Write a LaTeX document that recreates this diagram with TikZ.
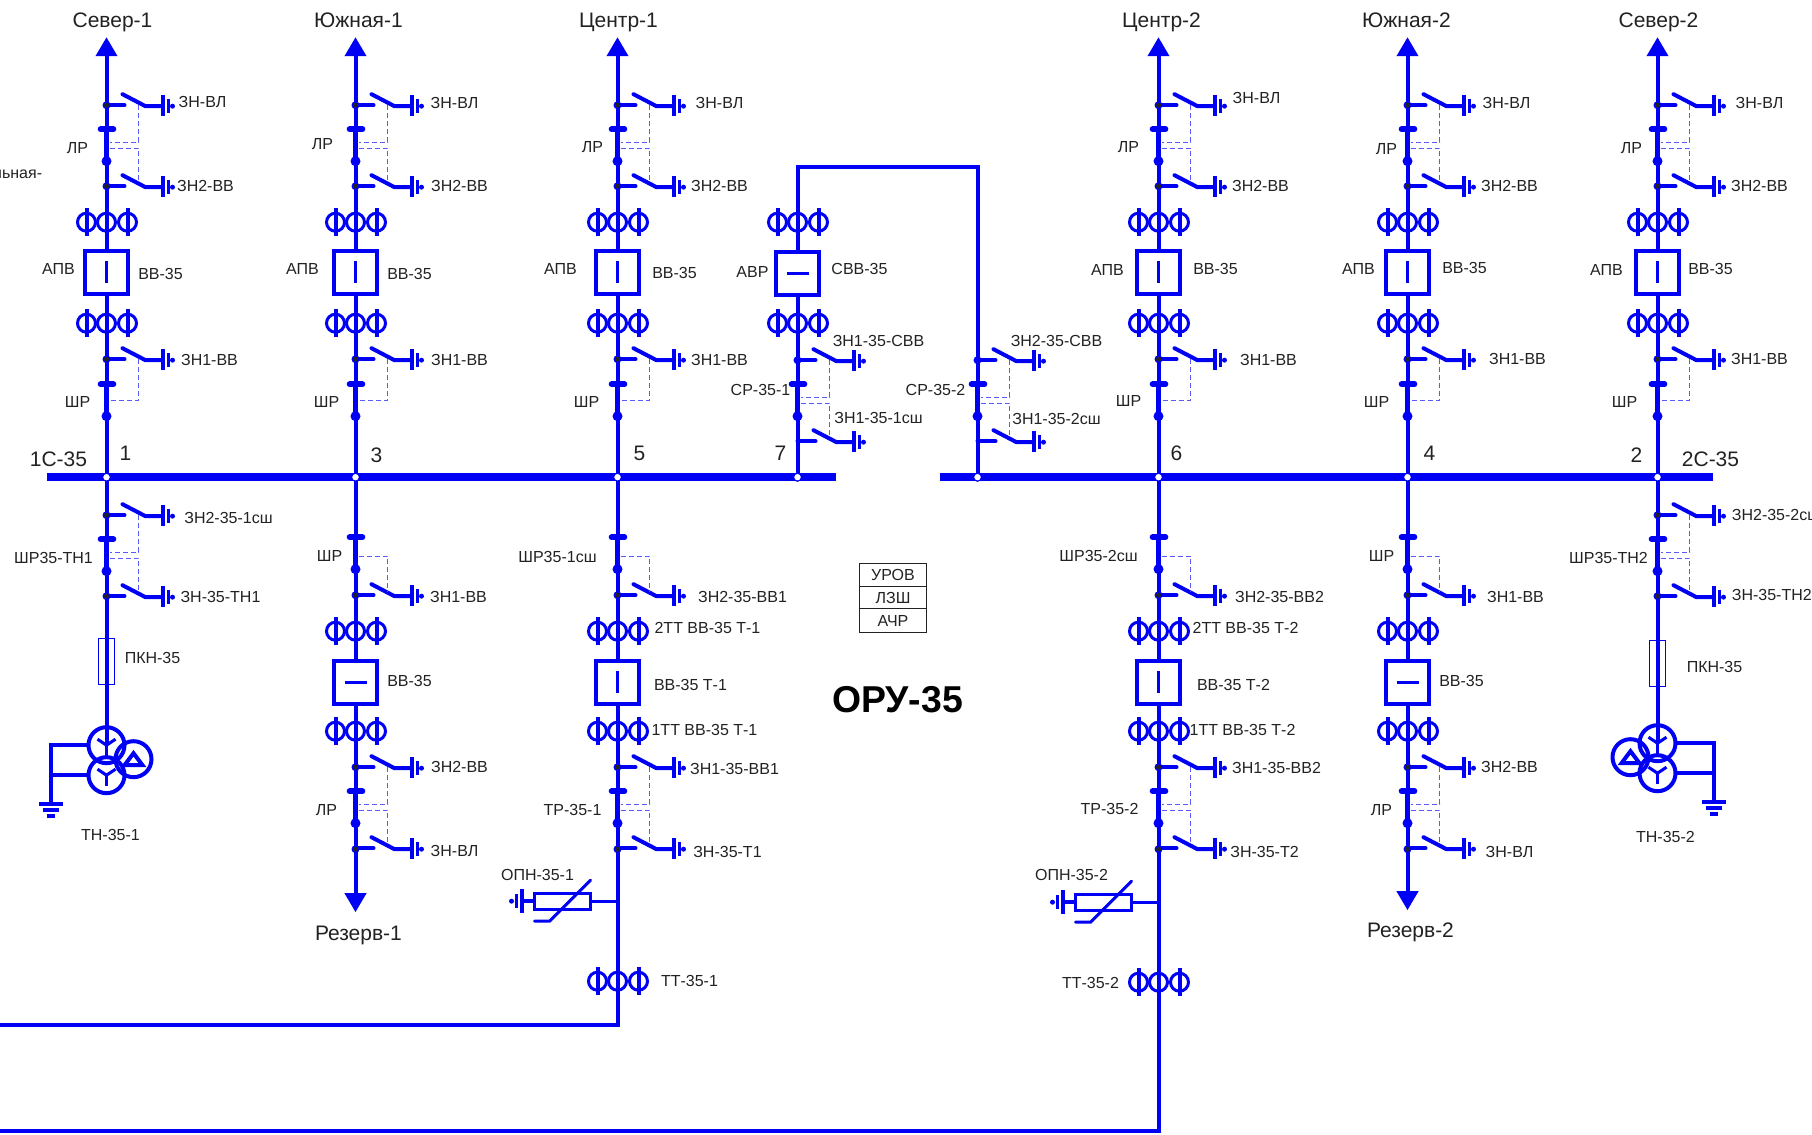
\documentclass[tikz,border=0pt]{standalone}
\usepackage{fontspec}
\setmainfont{Liberation Sans}
\usetikzlibrary{arrows.meta}

\definecolor{lineblue}{RGB}{0,0,245}
\definecolor{lockblue}{RGB}{90,90,250}
\definecolor{labelgray}{RGB}{34,34,34}

\tikzset{
  wire/.style={lineblue,line width=2pt},
  wirethin/.style={lineblue,line width=1.5pt},
  rzblade/.style={lineblue,line width=2.8pt},
  busbar/.style={lineblue,line width=4pt},
  lock/.style={lockblue,line width=0.55pt,dash pattern=on 2.5pt off 1.5pt},
  lbl/.style={text=labelgray,font=\fontsize{8}{9}\selectfont,inner sep=0pt,text height=5.8pt,text depth=0pt},
  lblbig/.style={text=labelgray,font=\fontsize{10.5}{11}\selectfont,inner sep=0pt,text height=7.6pt,text depth=0pt},
  vvbox/.style={draw=lineblue,fill=white,line width=1.8pt,minimum size=21.5pt,inner sep=0pt},
  pkn/.style={draw=lineblue,line width=0.7pt,minimum width=8pt,minimum height=23pt,inner sep=0pt},
  pics/tapdot/.style={code={
    \fill[lineblue] (0,0) circle (4);
    \fill[labelgray] (0,0) circle (2.5);
  }},
  pics/zn/.style={code={
    \draw[wire,line cap=round] (0,0) -- (18,0);
    \draw[wire,line cap=round] (16,-11) -- (39,1) -- (56,1);
    \draw[wire] (56,-10) -- (56,11);
    \draw[wirethin] (62,-6) -- (62,8);
    \fill[lineblue] (66,1) circle (2.5);
  }},
  pics/rz/.style={code={
    \draw[rzblade,line cap=round] (-6,0) -- (7,0);
    \draw[rzblade] (0,0) -- (0,32);
    \fill[lineblue] (0,32) circle (5);
  }},
  pics/cell/.style={code={
    \pic at (0,0) {zn};
    \pic at (0,24) {rz};
    \pic at (0,81) {zn};
    \draw[lock] (32,0) -- (32,37) -- (3,37);
    \draw[lock] (3,43) -- (32,43) -- (32,77);
  }},
  pics/cellone/.style={code={
    \pic at (0,0) {zn};
    \pic at (0,25) {rz};
    \draw[lock] (32,0) -- (32,41) -- (3,41);
  }},
  pics/cellrz/.style={code={
    \pic at (0,-58) {rz};
    \pic at (0,0) {zn};
    \draw[lock] (3,-39) -- (32,-39) -- (32,-3);
  }},
  pics/tt/.style={code={
    \foreach \tx in {-20,0,21} {
      \draw[wirethin] (\tx,0) circle (9);
      \draw[wire] (\tx,-14) -- (\tx,14);
    }
  }},
  pics/tn/.style={code={
    \draw[wire] (0,0) circle (18);
    \draw[wire] (0,30) circle (18);
    \draw[wire] (27,14) circle (18);
    \foreach \sy in {0,30} {
      \draw[wirethin] (-9,\sy-6) -- (0,\sy) -- (9,\sy-6);
      \draw[wirethin] (0,\sy) -- (0,\sy+11);
    }
    \draw[wire] (27,8) -- (18,20) -- (36,20) -- cycle;
    \draw[wire] (-18,0) -- (-56,0) -- (-56,59);
    \draw[wire] (-18,30) -- (-56,30);
    \draw[wire] (-68,59) -- (-44,59);
    \draw[wire] (-64,65) -- (-48,65);
    \draw[wire] (-60,71) -- (-52,71);
  }},
  pics/opn/.style={code={
    \draw[wirethin] (0,0) -- (-27,0);
    \draw[wirethin] (-27,-8) rectangle (-83,8);
    \draw[wirethin,line cap=round] (-27,-21) -- (-68,20) -- (-83,20);
    \draw[wire] (-83,0) -- (-96,0);
    \draw[wire] (-96,-12) -- (-96,12);
    \draw[wirethin] (-101,-7) -- (-101,7);
    \fill[lineblue] (-106,0) circle (2.5);
  }},
}

\begin{document}
\begin{tikzpicture}[x=0.5pt,y=-0.5pt]
  \useasboundingbox (-0.5,-1.2) rectangle (1811.5,1133.8);
  \clip (-0.5,-1.2) rectangle (1811.5,1133.8);
  % Feeders going up from the buses
  \foreach \fx/\n in {106/1,355/3,617/5,1158/6,1407/4,1657/2} {
    \coordinate (top\n) at (\fx,36);
    \coordinate (tap\n) at (\fx,476);
    \draw[wire,-{Triangle[length=9.5pt,width=10.5pt]}] (tap\n) -- (top\n);
    \pic at (\fx,104) {cell};
    \pic at (\fx,221) {tt};
    \node[vvbox] (vv\n) at (\fx,271) {};
    \draw[wirethin] (vv\n.center) ++(0,-11) -- ++(0,22);
    \pic at (\fx,322) {tt};
    \pic at (\fx,358) {cellone};
    \foreach \dy in {104,185,358} {\pic at (\fx,\dy) {tapdot};}
  }
  % Section link
  \coordinate (tap7) at (797,476);
  \coordinate (tap8) at (977,476);
  \coordinate (linkl) at (797,166);
  \coordinate (linkr) at (977,166);
  \draw[wire] (tap7) -- (linkl) -- (linkr) -- (tap8);
  \pic at (797,221) {tt};
  \node[vvbox] (vv7) at (797,272) {};
  \draw[wirethin] (vv7.center) ++(-11,0) -- ++(22,0);
  \pic at (797,322) {tt};
  \foreach \fx in {797,977} {
    \pic at (\fx,359) {cell};
    \fill[lineblue] (\fx,359) circle (4);
  }
  % Voltage transformers
  \coordinate (tn1) at (106,744);
  \coordinate (tn2) at (1657,742);
  \draw[wire] (tap1) -- (tn1);
  \draw[wire] (tap2) -- (tn2);
  \node[pkn] (pkn1) at (106,660) {};
  \node[pkn] (pkn2) at (1657,662) {};
  \pic at (tn1) {tn};
  \pic[xscale=-1] at (tn2) {tn};
  \foreach \fx in {106,1657} {
    \pic at (\fx,514) {cell};
    \foreach \dy in {514,595} {\pic at (\fx,\dy) {tapdot};}
  }
  % Reserve feeders
  \coordinate (res1) at (355,911);
  \coordinate (res2) at (1407,909);
  \draw[wire,-{Triangle[length=9.5pt,width=10.5pt]}] (tap3) -- (res1);
  \draw[wire,-{Triangle[length=9.5pt,width=10.5pt]}] (tap4) -- (res2);
  % Transformer feeders
  \coordinate (t1) at (617,1024);
  \coordinate (t2) at (1158,1130);
  \coordinate (t1end) at (-2,1024);
  \coordinate (t2end) at (-2,1130);
  \draw[wire] (tap5) -- (t1) -- (t1end);
  \draw[wire] (tap6) -- (t2) -- (t2end);
  \pic at (617,900) {opn};
  \pic at (1158,901) {opn};
  \pic at (617,980) {tt};
  \pic at (1158,981) {tt};
  \foreach \fx/\n in {355/a,617/b,1158/c,1407/d} {
    \pic at (\fx,594) {cellrz};
    \pic at (\fx,630) {tt};
    \node[vvbox] (vvl\n) at (\fx,681) {};
    \pic at (\fx,730) {tt};
    \pic at (\fx,766) {cell};
    \foreach \dy in {594,766,848} {\pic at (\fx,\dy) {tapdot};}
  }
  \foreach \n in {a,d} {\draw[wirethin] (vvl\n.center) ++(-11,0) -- ++(22,0);}
  \foreach \n in {b,c} {\draw[wirethin] (vvl\n.center) ++(0,-11) -- ++(0,22);}
  % Buses
  \coordinate (bus1l) at (46,476);
  \coordinate (bus1r) at (835,476);
  \coordinate (bus2l) at (939,476);
  \coordinate (bus2r) at (1712,476);
  \draw[busbar] (bus1l) -- (bus1r);
  \draw[busbar] (bus2l) -- (bus2r);
  \foreach \n in {1,...,8} {\draw[lineblue,line width=0.6pt,fill=white] (tap\n) circle (4);}
  % Protection block
  \node[draw=labelgray,line width=0.7pt,minimum width=33.5pt,minimum height=11.5pt,inner sep=0pt,lbl] (uro) at (892.5,573.5) {УРОВ};
  \node[draw=labelgray,line width=0.7pt,minimum width=33.5pt,minimum height=11pt,inner sep=0pt,lbl] (lzs) at (892.5,596) {ЛЗШ};
  \node[draw=labelgray,line width=0.7pt,minimum width=33.5pt,minimum height=12pt,inner sep=0pt,lbl] (achr) at (892.5,619) {АЧР};
  \node[font=\bfseries\fontsize{18.7}{20}\selectfont,inner sep=0pt,text height=13.4pt,text depth=0pt] (oru) at (897,698) {ОРУ-35};
  \begin{scope}[yshift=0.6pt]
  % Titles
  \foreach \lx/\ly/\ltext [count=\i] in {112/20/Север-1,358/20/Южная-1,618/20/Центр-1,1161/20/Центр-2,1406/20/Южная-2,1658/20/Север-2,
    358/933/Резерв-1,1410/930/Резерв-2,58/459/1С-35,1710/459/2С-35,
    125/453/1,376/455/3,639/453/5,780/453/7,1176/453/6,1429/453/4,1636/455/2} {
    \node[lblbig] (title\i) at (\lx,\ly) {\ltext};
  }
  % Labels
  \foreach \lx/\ly/\ltext [count=\i] in {
    202/102/ЗН-ВЛ,205/186/ЗН2-ВВ,209/360/ЗН1-ВВ,77/148/ЛР,77/402/ШР,58/269/АПВ,160/274/ВВ-35,
    228/518/ЗН2-35-1сш,220/597/ЗН-35-ТН1,53/558/ШР35-ТН1,152/658/ПКН-35,110/835/ТН-35-1,
    454/103/ЗН-ВЛ,459/186/ЗН2-ВВ,459/360/ЗН1-ВВ,322/144/ЛР,326/402/ШР,302/269/АПВ,409/274/ВВ-35,
    329/556/ШР,458/597/ЗН1-ВВ,409/681/ВВ-35,459/767/ЗН2-ВВ,326/810/ЛР,454/851/ЗН-ВЛ,
    719/103/ЗН-ВЛ,719/186/ЗН2-ВВ,719/360/ЗН1-ВВ,592/147/ЛР,586/402/ШР,560/269/АПВ,674/273/ВВ-35,
    557/557/ШР35-1сш,742/597/ЗН2-35-ВВ1,707/628/2ТТ ВВ-35 Т-1,690/685/ВВ-35 Т-1,704/730/1ТТ ВВ-35 Т-1,
    734/769/ЗН1-35-ВВ1,572/810/ТР-35-1,727/852/ЗН-35-Т1,537/875/ОПН-35-1,689/981/ТТ-35-1,
    752/272/АВР,859/269/СВВ-35,878/341/ЗН1-35-СВВ,760/390/СР-35-1,878/418/ЗН1-35-1сш,
    1056/341/ЗН2-35-СВВ,935/390/СР-35-2,1056/419/ЗН1-35-2сш,
    1256/98/ЗН-ВЛ,1260/186/ЗН2-ВВ,1268/360/ЗН1-ВВ,1128/147/ЛР,1128/401/ШР,1107/270/АПВ,1215/269/ВВ-35,
    1098/556/ШР35-2сш,1279/597/ЗН2-35-ВВ2,1245/628/2ТТ ВВ-35 Т-2,1233/685/ВВ-35 Т-2,1242/730/1ТТ ВВ-35 Т-2,
    1276/768/ЗН1-35-ВВ2,1109/809/ТР-35-2,1264/852/ЗН-35-Т2,1071/875/ОПН-35-2,1090/983/ТТ-35-2,
    1506/103/ЗН-ВЛ,1509/186/ЗН2-ВВ,1517/359/ЗН1-ВВ,1386/149/ЛР,1376/402/ШР,1358/269/АПВ,1464/268/ВВ-35,
    1381/556/ШР,1515/597/ЗН1-ВВ,1461/681/ВВ-35,1509/767/ЗН2-ВВ,1381/810/ЛР,1509/852/ЗН-ВЛ,
    1759/103/ЗН-ВЛ,1759/186/ЗН2-ВВ,1759/359/ЗН1-ВВ,1631/148/ЛР,1624/402/ШР,1606/270/АПВ,1710/269/ВВ-35,
    1608/558/ШР35-ТН2,1714/667/ПКН-35,1665/837/ТН-35-2} {
    \node[lbl] (lb\i) at (\lx,\ly) {\ltext};
  }
  \node[lbl,anchor=west] (lbsw) at (1731,515) {ЗН2-35-2сш};
  \node[lbl,anchor=west] (lbth) at (1731,595) {ЗН-35-ТН2};
  \node[lbl,anchor=east] (lbcut) at (42,173) {льная-};
  \end{scope}
\end{tikzpicture}
\end{document}
